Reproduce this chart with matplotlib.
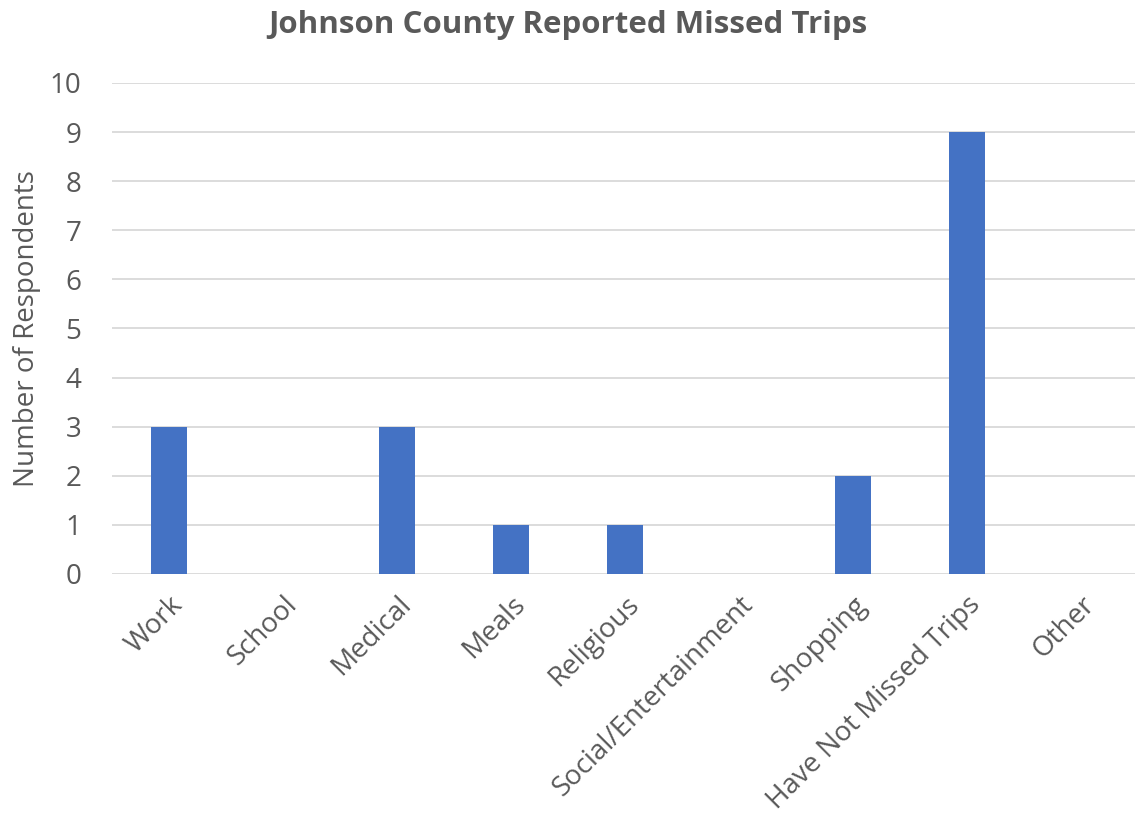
import matplotlib
matplotlib.use("Agg")
import matplotlib.pyplot as plt

categories = ["Work", "School", "Medical", "Meals", "Religious",
              "Social/Entertainment", "Shopping", "Have Not Missed Trips", "Other"]
values = [3, 0, 3, 1, 1, 0, 2, 9, 0]
yticks = list(range(0, 11))

plt.rcParams['font.family'] = ['Open Sans', 'DejaVu Sans']
gray = "#595959"

fig = plt.figure(figsize=(11.35, 8.21), dpi=100)
ax = fig.add_axes([112/1135, 1-574/821, 1026/1135, (574-83)/821])
x = list(range(len(categories)))
ax.bar(x, values, width=0.31, color="#4472C4", zorder=3)
ax.set_xlim(-0.5, len(categories)-0.5)
ax.set_ylim(0, 10)
ax.set_yticks(yticks)
ax.yaxis.grid(True, color="#D9D9D9", linewidth=1.3, zorder=0)
for s in ax.spines.values():
    s.set_visible(False)
ax.tick_params(axis='both', length=0, colors=gray)
ax.tick_params(axis='y', pad=22, labelsize=20)
ax.set_xticks(x)
ax.set_xticklabels(categories, rotation=45, ha='right', rotation_mode='anchor', fontsize=20)
ax.tick_params(axis='x', pad=12)
ax.set_ylabel("Number of Respondents", fontsize=20, color=gray, labelpad=6)
fig.text(568/1135, 1-25/821, "Johnson County Reported Missed Trips", ha='center', va='center',
         fontsize=22.5, fontweight='bold', color=gray)
fig.savefig("out.png", dpi=100)
